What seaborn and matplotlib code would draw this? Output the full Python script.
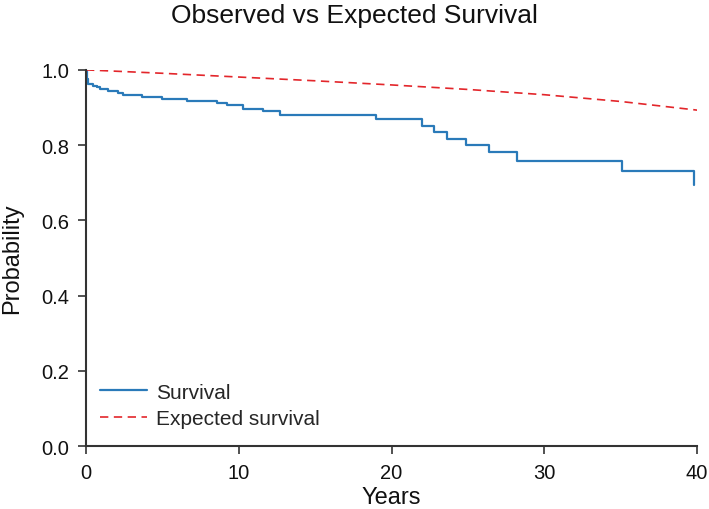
import matplotlib
matplotlib.use('Agg')
import matplotlib.pyplot as plt
import seaborn as sns
import pandas as pd

# ---------------------------------------------------------
# Data
# ---------------------------------------------------------
surv_years = [0, 0.05, 0.15, 0.48, 0.7, 0.92, 1.46, 2.1, 2.45, 3.64, 4.95, 6.58,
              8.55, 9.2, 10.3, 11.6, 12.7, 19.0, 22.0, 22.8, 23.6, 24.9, 26.4,
              28.2, 35.1, 39.8]
surv_prob = [1.0, 0.975, 0.963, 0.958, 0.954, 0.949, 0.943, 0.938, 0.934, 0.927,
             0.922, 0.916, 0.911, 0.906, 0.897, 0.890, 0.880, 0.870, 0.851, 0.835,
             0.816, 0.800, 0.781, 0.759, 0.732, 0.694]

exp_years = [0, 5, 10, 15, 20, 25, 30, 35, 40]
exp_prob = [1.0, 0.991, 0.981, 0.971, 0.960, 0.948, 0.934, 0.916, 0.893]

x_ticks = [0, 10, 20, 30, 40]
y_ticks = [0.0, 0.2, 0.4, 0.6, 0.8, 1.0]

surv_df = pd.DataFrame({'Years': surv_years, 'Probability': surv_prob})
exp_df = pd.DataFrame({'Years': exp_years, 'Probability': exp_prob})

# ---------------------------------------------------------
# Plot
# ---------------------------------------------------------
sns.set_style('ticks')
plt.rcParams['font.family'] = ['Liberation Sans', 'DejaVu Sans']

fig = plt.figure(figsize=(7.09, 5.10), dpi=100)
ax = fig.add_axes([0.1213, 0.1235, 0.862, 0.7375])

sns.lineplot(data=surv_df, x='Years', y='Probability', ax=ax,
             drawstyle='steps-post', color='#2a7ab9', lw=1.6, label='Survival')
sns.lineplot(data=exp_df, x='Years', y='Probability', ax=ax,
             color='#e3262b', lw=1.2, linestyle=(0, (5, 3.3)), label='Expected survival')

ax.set_xlim(0, 40)
ax.set_ylim(0, 1.0)
ax.set_xticks(x_ticks)
ax.set_yticks(y_ticks)
ax.set_yticklabels([f"{v:.1f}" for v in y_ticks])
ax.tick_params(labelsize=14.5, length=6, width=1.2, pad=6,
               color='#333333', labelcolor='#111111')
for side in ['left', 'bottom']:
    ax.spines[side].set_color('#333333')
    ax.spines[side].set_linewidth(1.5)
sns.despine(ax=ax)

ax.set_xlabel('Years', fontsize=17, labelpad=3, color='#111111')
ax.set_ylabel('Probability', fontsize=17, labelpad=13, color='#111111')
# title is centred on the whole figure, not on the axes
fig.suptitle('Observed vs Expected Survival', fontsize=19, x=0.5, y=0.992, color='#111111')

ax.legend(loc='lower left', frameon=False, fontsize=15, handlelength=2.25,
          handletextpad=0.45, bbox_to_anchor=(0.023, 0.048), borderaxespad=0,
          borderpad=0, labelspacing=0.35)

plt.savefig('out.png', dpi=100)
plt.close()
